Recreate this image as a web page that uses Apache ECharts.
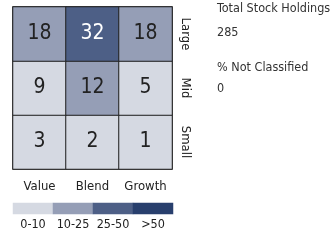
<!DOCTYPE html>
<html>
<head>
<meta charset="utf-8">
<script src="https://cdn.jsdelivr.net/npm/echarts@6/dist/echarts.min.js"></script>
<style>
  html, body { margin: 0; padding: 0; background: #fff; }
  #chart { width: 333px; height: 244px; }
</style>
</head>
<body>
<div id="chart"></div>
<script>
  // style box data
  const styles = ['Value', 'Blend', 'Growth'];
  const sizes = ['Small', 'Mid', 'Large'];
  // rows top to bottom: Large, Mid, Small
  const largeRow = [18, 32, 18];
  const midRow = [9, 12, 5];
  const smallRow = [3, 2, 1];
  const legendLabels = ['0-10', '10-25', '25-50', '>50'];
  const legendValues = [5, 15, 35, 60];
  const totalHoldings = '285';
  const notClassified = '0';

  const FONT = '"Liberation Sans Narrow", "DejaVu Sans Condensed", sans-serif';
  const colors = ['#d5d9e2', '#959eb6', '#4d5f86', '#283f6d'];

  function colorFor(v) {
    if (v > 50) return colors[3];
    if (v > 25) return colors[2];
    if (v > 10) return colors[1];
    return colors[0];
  }

  const cells = [];
  [smallRow, midRow, largeRow].forEach((row, y) => {
    row.forEach((v, x) => {
      cells.push({
        value: [x, y, v],
        itemStyle: { color: colorFor(v) },
        label: { color: v > 25 ? '#ffffff' : '#222222' }
      });
    });
  });

  const legendCells = legendValues.map((v, i) => ({
    value: [i, 0, v],
    itemStyle: { color: colorFor(v) }
  }));

  const chart = echarts.init(document.getElementById('chart'));
  const option = {
    animation: false,
    textStyle: { fontFamily: FONT },
    title: [
      { text: 'Total Stock Holdings', left: 212, top: -3 },
      { text: totalHoldings, left: 212, top: 21 },
      { text: '% Not Classified', left: 212, top: 56 },
      { text: notClassified, left: 212, top: 77 }
    ].map(t => Object.assign(t, {
      textStyle: { fontFamily: FONT, fontSize: 12.5, fontWeight: 'normal', color: '#333' }
    })),
    grid: [
      { left: 13, top: 7, width: 159, height: 162, show: true, borderColor: '#222', borderWidth: 1.5, backgroundColor: 'transparent' },
      { left: 13, top: 203, width: 160, height: 11 }
    ],
    xAxis: [
      {
        type: 'category', gridIndex: 0, data: styles, position: 'bottom',
        axisLine: { show: false }, axisTick: { show: false }, splitLine: { show: false },
        axisLabel: { interval: 0, margin: 11, fontSize: 13, color: '#222', fontFamily: FONT }
      },
      {
        type: 'category', gridIndex: 1, data: legendLabels, position: 'bottom',
        axisLine: { show: false }, axisTick: { show: false },
        axisLabel: { interval: 0, margin: 4, fontSize: 12.5, color: '#222', fontFamily: FONT }
      }
    ],
    yAxis: [
      {
        type: 'category', gridIndex: 0, data: sizes, position: 'right',
        axisLine: { show: false }, axisTick: { show: false }, splitLine: { show: false },
        axisLabel: { interval: 0, margin: 7, rotate: -90, fontSize: 13, color: '#222', fontFamily: FONT }
      },
      {
        type: 'category', gridIndex: 1, data: [''], show: false
      }
    ],
    series: [
      {
        type: 'heatmap', xAxisIndex: 0, yAxisIndex: 0, data: cells,
        itemStyle: { borderColor: '#222', borderWidth: 1 },
        label: {
          show: true, fontSize: 21, fontFamily: FONT,
          formatter: p => p.value[2]
        }
      },
      {
        type: 'heatmap', xAxisIndex: 1, yAxisIndex: 1, data: legendCells,
        itemStyle: { borderWidth: 0 }
      }
    ]
  };
  chart.setOption(option);
</script>
</body>
</html>
